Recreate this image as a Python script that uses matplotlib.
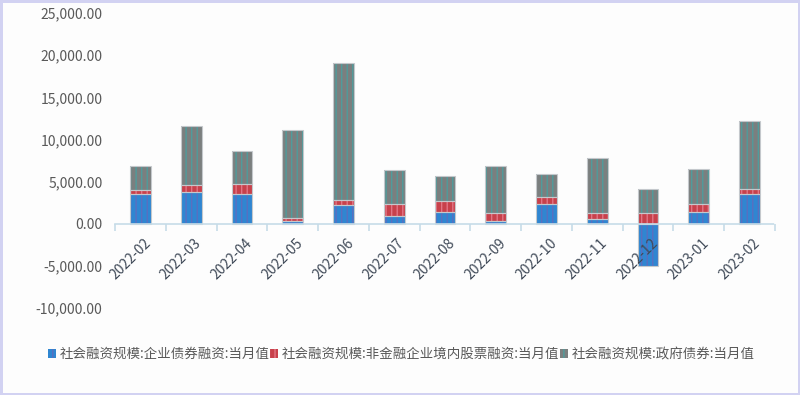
import numpy as np
import matplotlib
matplotlib.use('Agg')
import matplotlib.pyplot as plt
from matplotlib.ticker import FuncFormatter

plt.rcParams['font.family'] = ['Noto Sans CJK SC', 'DejaVu Sans']
plt.rcParams['hatch.linewidth'] = 1.0

months = ['2022-02', '2022-03', '2022-04', '2022-05', '2022-06', '2022-07', '2022-08',
          '2022-09', '2022-10', '2022-11', '2022-12', '2023-01', '2023-02']
corp_bond = [3500, 3730, 3570, 270, 2240, 860, 1410, 270, 2320, 510, -4980, 1380, 3570]
equity = [540, 900, 1180, 350, 590, 1500, 1300, 1030, 820, 790, 1300, 980, 590]
gov_bond = [2760, 6950, 3880, 10530, 16250, 3960, 2940, 5500, 2750, 6510, 2860, 4080, 8010]

names = ['社会融资规模:企业债券融资:当月值',
         '社会融资规模:非金融企业境内股票融资:当月值',
         '社会融资规模:政府债券:当月值']
fills = ['#2F86D1', '#C8414B', '#7B7F7F']
stripes = ['#5A6FC0', '#E27585', '#4F9C9C']


def stack_bottoms(series):
    pos = np.zeros(len(series[0]))
    neg = np.zeros(len(series[0]))
    out = []
    for s in series:
        s = np.array(s, dtype=float)
        b = np.where(s >= 0, pos, neg)
        out.append(b)
        pos = pos + np.where(s >= 0, s, 0)
        neg = neg + np.where(s < 0, s, 0)
    return out


fig = plt.figure(figsize=(8, 3.95), dpi=100)
fig.patch.set_facecolor('#FDFDFD')
fig.patch.set_edgecolor('#D2D2F2')
fig.patch.set_linewidth(2.5)
ax = fig.add_axes([0.14375, 0.2203, 0.825, 0.7467])
ax.set_facecolor('#FDFDFD')

x = np.arange(len(months))
series = [corp_bond, equity, gov_bond]
bottoms = stack_bottoms(series)
handles = []
for s, b, fc, sc, nm in zip(series, bottoms, fills, stripes, names):
    h = ax.bar(x, s, bottom=b, width=0.41, color=fc, edgecolor=sc, linewidth=0,
               hatch='|||', label=nm, zorder=2)
    ax.bar(x, s, bottom=b, width=0.41, fill=False, edgecolor='#C4C8CC',
           linewidth=0.8, zorder=3)
    handles.append(h)

ax.set_xlim(-0.5, len(months) - 0.5)
ax.set_ylim(-10000, 25000)
ax.set_yticks(np.arange(-10000, 25001, 5000))
ax.yaxis.set_major_formatter(FuncFormatter(lambda v, p: f'{v:,.2f}'))
ax.tick_params(axis='y', length=0, pad=9, labelsize=10, labelcolor='#595959')

for sp in ['top', 'right', 'left']:
    ax.spines[sp].set_visible(False)
ax.spines['bottom'].set_position(('data', 0))
ax.spines['bottom'].set_color('#C6DCE8')
ax.spines['bottom'].set_linewidth(1.2)
ax.spines['bottom'].set_linestyle((0, (2, 1)))
ax.spines['bottom'].set_zorder(4)

ax.set_xticks(np.arange(-0.5, len(months), 1.0))
ax.set_xticklabels([])
ax.tick_params(axis='x', length=5, color='#C6DCE8', width=1.2)
for i, m in enumerate(months):
    ax.text(i + 0.06, -1500, m, rotation=45, ha='right', va='top',
            rotation_mode='anchor', fontsize=10, color='#404A58', zorder=5)

leg = fig.legend(handles=handles, labels=names, loc='lower left',
                 bbox_to_anchor=(0.045, 0.055), ncol=3, frameon=False,
                 fontsize=9.7, handlelength=0.6, handleheight=0.6,
                 handletextpad=0.25, columnspacing=0.05, labelcolor='#595959')

fig.savefig('out.png', dpi=100, facecolor=fig.get_facecolor(),
            edgecolor=fig.get_edgecolor())
